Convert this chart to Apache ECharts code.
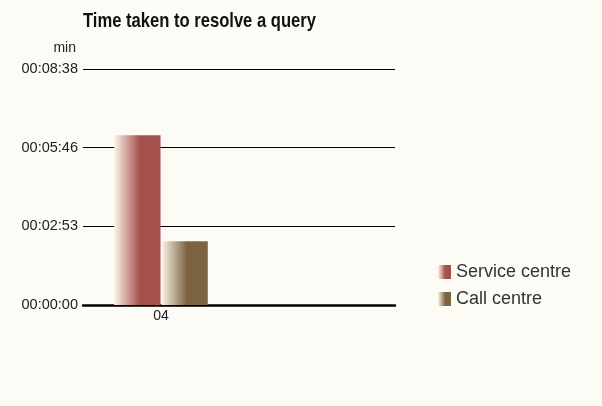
<!DOCTYPE html>
<html>
<head>
<meta charset="utf-8">
<script src="https://cdn.jsdelivr.net/npm/echarts@6/dist/echarts.min.js"></script>
<style>
  html, body { margin: 0; padding: 0; background: #fcfbf6; }
  #chart { width: 602px; height: 406px; }
</style>
</head>
<body>
<div id="chart"></div>
<script>
// Resolution time per channel, in seconds
const categories = ['04', ''];
const serviceCentre = [373, null];
const callCentre = [140, null];
const seriesNames = ['Service centre', 'Call centre'];
const yTickLabels = ['00:00:00', '00:02:53', '00:05:46', '00:08:38'];
const yStep = 172.8;
const chartTitle = 'Time taken to resolve a query';

function fade(dark) {
  return new echarts.graphic.LinearGradient(0, 0, 1, 0, [
    { offset: 0, color: '#fbf4e8' },
    { offset: 0.55, color: dark },
    { offset: 1, color: dark }
  ]);
}

const chart = echarts.init(document.getElementById('chart'), null, { renderer: 'canvas' });
chart.setOption({
  backgroundColor: '#fcfbf6',
  animation: false,
  // condensed bold heading: regular bold face squeezed horizontally
  graphic: [{
    type: 'text',
    x: 83, y: 11,
    scaleX: 0.79,
    style: {
      text: chartTitle,
      font: 'bold 21px "Liberation Sans", Arial, sans-serif',
      fill: '#111',
      verticalAlign: 'top'
    }
  }],
  legend: {
    orient: 'vertical',
    left: 433, top: 258,
    icon: 'rect',
    itemWidth: 13, itemHeight: 14, itemGap: 9,
    textStyle: { fontFamily: 'Liberation Sans, Arial', fontSize: 18, color: '#333' },
    data: seriesNames
  },
  grid: { left: 83, right: 207, top: 69, bottom: 101 },
  xAxis: {
    type: 'category',
    data: categories,
    axisLine: { lineStyle: { color: '#000', width: 2.5 } },
    axisTick: { show: false },
    axisLabel: { fontFamily: 'Liberation Sans, Arial', fontSize: 14, color: '#222', margin: 4 }
  },
  yAxis: {
    type: 'value',
    min: 0, max: yStep * 3, interval: yStep,
    name: 'min',
    nameLocation: 'end',
    nameGap: 14,
    nameTextStyle: { fontFamily: 'Liberation Sans, Arial', fontSize: 14, color: '#222', align: 'right', padding: [0, 7, 0, 0] },
    axisLine: { show: false },
    axisTick: { show: false },
    axisLabel: {
      fontFamily: 'Liberation Sans, Arial', fontSize: 14.5, color: '#222', margin: 5,
      formatter: v => yTickLabels[Math.round(v / yStep)]
    },
    splitLine: { lineStyle: { color: '#000', width: 1 } }
  },
  series: [
    { name: seriesNames[0], type: 'bar', data: serviceCentre, barGap: '2%', barCategoryGap: '40%',
      itemStyle: { color: fade('#a4514d') } },
    { name: seriesNames[1], type: 'bar', data: callCentre,
      itemStyle: { color: fade('#7c6443') } }
  ]
});
</script>
</body>
</html>
